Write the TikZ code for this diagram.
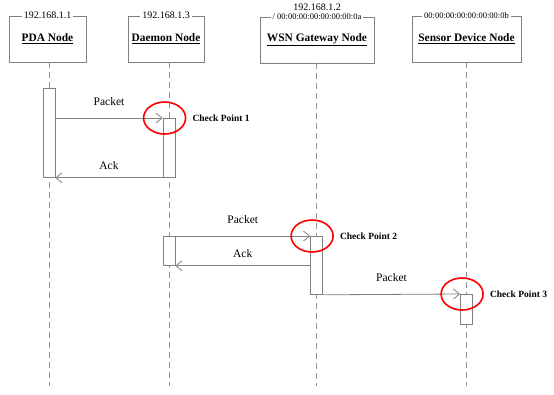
\documentclass[tikz,border=0pt]{standalone}
\usepackage{fontspec}
\setmainfont{Liberation Serif}
\usetikzlibrary{arrows.meta, positioning, shapes.geometric}
\newcommand{\fsz}[1]{\fontsize{#1}{#1}\selectfont}

\begin{document}
\begin{tikzpicture}[
                    x=1pt, y=-1pt,
                    every node/.style={font=\fsz{11.5}},
                    nodebox/.style={draw=gray, line width=0.8pt, minimum width=#1, minimum height=46pt, inner sep=0pt, font=\fsz{11.4}\bfseries},
                    addr/.style={fill=white, inner sep=2pt, font=\fsz{#1}},
                    act/.style={draw=gray, line width=0.8pt, fill=white, minimum width=12pt, minimum height=#1, inner sep=0pt, anchor=north},
                    lifeline/.style={draw=gray!85, line width=0.8pt, dash pattern=on 6pt off 4pt},
                    msg/.style={draw=gray, line width=0.8pt, -{Straight Barb[length=6pt,width=10pt]}},
                    check/.style={draw=red, line width=1.6pt, ellipse, minimum width=42pt, minimum height=32pt, inner sep=0pt},
                    cplabel/.style={font=\fsz{9.5}\bfseries, inner sep=0pt, right=6pt of #1},
                    msglabel/.style={midway, above=#1, inner sep=0pt}
                ]
                    \useasboundingbox (0,0) rectangle (554,394);
                    \coordinate (end) at (0,386);
                    % object boxes with their addresses
                    \node[nodebox=77pt] (pda) at (47.5,39) {\underline{PDA Node}};
                    \node[nodebox=76pt] (daemon) at (166,39) {\underline{Daemon Node}};
                    \node[nodebox=114pt] (wsn) at (317,40) {\underline{WSN Gateway Node}};
                    \node[nodebox=109pt] (sensor) at (466.5,39) {\underline{Sensor Device Node}};
                    \node[addr=10] (pdaip) at (pda.north) {192.168.1.1};
                    \node[addr=10] (daemonip) at (daemon.north) {192.168.1.3};
                    \node[addr=8.5] (wsnmac) at (wsn.north) {/ 00:00:00:00:00:00:00:0a};
                    \node[addr=10, above=0.5pt of wsnmac, inner sep=0pt, fill=none] (wsnip) {192.168.1.2};
                    \node[addr=8.5] (sensormac) at (sensor.north) {00:00:00:00:00:00:00:0b};
                    % activations
                    \coordinate (pdax) at (49,0);
                    \coordinate (daemonx) at (169,0);
                    \coordinate (wsnx) at (316.5,0);
                    \coordinate (sensorx) at (466.5,0);
                    \draw[lifeline] (pdax |- pda.south) -- (pdax |- end);
                    \draw[lifeline] (daemonx |- daemon.south) -- (daemonx |- end);
                    \draw[lifeline] (wsnx |- wsn.south) -- (wsnx |- end);
                    \draw[lifeline] (sensorx |- sensor.south) -- (sensorx |- end);
                    \node[act=89pt] (pdaact) at (pdax |- 0,88) {};
                    \node[act=59pt] (daemonact1) at (daemonx |- 0,118) {};
                    \node[act=29pt] (daemonact2) at (daemonx |- 0,236) {};
                    \node[act=58pt] (wsnact) at (wsnx |- 0,236) {};
                    \node[act=30pt] (sensoract) at (sensorx |- 0,294) {};
                    % messages
                    \draw[msg] (pdaact.east |- daemonact1.north west) -- node[msglabel=12pt] {Packet} (daemonact1.north west);
                    \draw[msg] (daemonact1.south west) -- node[msglabel=8pt] {Ack} (pdaact.south east);
                    \draw[msg] (daemonact2.north east) -- node[msglabel=12pt] {Packet} (wsnact.north west);
                    \draw[msg] (wsnact.west |- daemonact2.south east) -- node[msglabel=8pt] {Ack} (daemonact2.south east);
                    \draw[msg] (wsnact.south east) -- node[msglabel=12pt] {Packet} (sensoract.north west);
                    % check points
                    \node[check, xshift=2pt] (cp1) at (daemonact1.north west) {};
                    \node[check, xshift=2pt] (cp2) at (wsnact.north west) {};
                    \node[check, xshift=2pt] (cp3) at (sensoract.north west) {};
                    \node[cplabel=cp1] (cp1text) {Check Point 1};
                    \node[cplabel=cp2] (cp2text) {Check Point 2};
                    \node[cplabel=cp3] (cp3text) {Check Point 3};
                \end{tikzpicture}
\end{document}
